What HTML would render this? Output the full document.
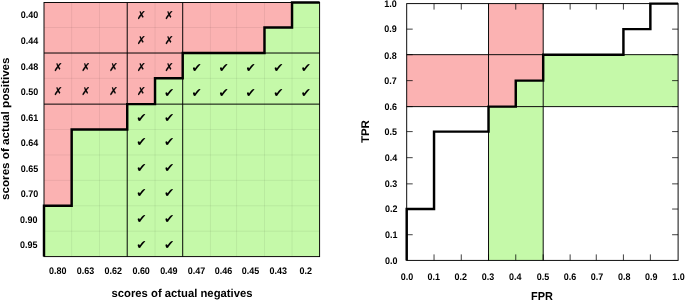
<!DOCTYPE html>
<html lang="en"><head><meta charset="utf-8"><title>ROC plot</title>
<style>html,body{margin:0;padding:0;background:#fff}svg{display:block}</style></head>
<body>
<svg width="685" height="302" viewBox="0 0 685 302">
<rect width="685" height="302" fill="#fff"/>
<rect x="44" y="2.5" width="275.6" height="254.1" fill="#FBB2B2"/>
<polygon points="44,256.6 44,205.78 71.66,205.78 71.66,129.55 127.23,129.55 127.23,104.14 155.03,104.14 155.03,78.33 182.7,78.33 182.7,53.02 264.48,53.02 264.48,27.51 292.04,27.51 292.04,2.5 319.6,2.5 319.6,256.6" fill="#C5F9A9"/>
<g stroke="#000" stroke-opacity="0.085" stroke-width="0.75">
<line x1="71.66" y1="2.5" x2="71.66" y2="256.6"/>
<line x1="44" y1="27.51" x2="319.6" y2="27.51"/>
<line x1="99.46" y1="2.5" x2="99.46" y2="256.6"/>
<line x1="44" y1="53.02" x2="319.6" y2="53.02"/>
<line x1="127.23" y1="2.5" x2="127.23" y2="256.6"/>
<line x1="44" y1="78.33" x2="319.6" y2="78.33"/>
<line x1="155.03" y1="2.5" x2="155.03" y2="256.6"/>
<line x1="44" y1="104.14" x2="319.6" y2="104.14"/>
<line x1="182.7" y1="2.5" x2="182.7" y2="256.6"/>
<line x1="44" y1="129.55" x2="319.6" y2="129.55"/>
<line x1="210.41" y1="2.5" x2="210.41" y2="256.6"/>
<line x1="44" y1="154.96" x2="319.6" y2="154.96"/>
<line x1="236.62" y1="2.5" x2="236.62" y2="256.6"/>
<line x1="44" y1="180.37" x2="319.6" y2="180.37"/>
<line x1="264.48" y1="2.5" x2="264.48" y2="256.6"/>
<line x1="44" y1="205.78" x2="319.6" y2="205.78"/>
<line x1="292.04" y1="2.5" x2="292.04" y2="256.6"/>
<line x1="44" y1="231.19" x2="319.6" y2="231.19"/>
</g>
<g stroke="#000" stroke-width="0.95" fill="none">
<rect x="44" y="2.5" width="275.6" height="254.1"/>
<line x1="127.23" y1="2.5" x2="127.23" y2="256.6"/>
<line x1="182.7" y1="2.5" x2="182.7" y2="256.6"/>
<line x1="44" y1="53.02" x2="319.6" y2="53.02"/>
<line x1="44" y1="104.14" x2="319.6" y2="104.14"/>
</g>
<polyline points="44,256.6 44,205.78 71.66,205.78 71.66,129.55 127.23,129.55 127.23,104.14 155.03,104.14 155.03,78.33 182.7,78.33 182.7,53.02 264.48,53.02 264.48,27.51 292.04,27.51 292.04,2.5 319.6,2.5" fill="none" stroke="#000" stroke-width="2.45" stroke-linejoin="miter" stroke-linecap="butt"/>
<g font-family="'DejaVu Sans', sans-serif" fill="#000">
<text font-size="11.0" stroke="#000" stroke-width="0.12" x="136.84" y="19.13">✗</text>
<text font-size="11.0" stroke="#000" stroke-width="0.12" x="164.58" y="19.13">✗</text>
<text font-size="11.0" stroke="#000" stroke-width="0.12" x="136.84" y="44.39">✗</text>
<text font-size="11.0" stroke="#000" stroke-width="0.12" x="164.58" y="44.39">✗</text>
<text font-size="11.0" stroke="#000" stroke-width="0.12" x="53.54" y="70.6">✗</text>
<text font-size="11.0" stroke="#000" stroke-width="0.12" x="81.27" y="70.6">✗</text>
<text font-size="11.0" stroke="#000" stroke-width="0.12" x="109.06" y="70.6">✗</text>
<text font-size="11.0" stroke="#000" stroke-width="0.12" x="136.84" y="70.6">✗</text>
<text font-size="11.0" stroke="#000" stroke-width="0.12" x="164.58" y="70.6">✗</text>
<text font-size="12.5" x="191.59" y="72.31">✔</text>
<text font-size="12.5" x="218.55" y="72.31">✔</text>
<text font-size="12.5" x="245.59" y="72.31">✔</text>
<text font-size="12.5" x="273.3" y="72.31">✔</text>
<text font-size="12.5" x="300.86" y="72.31">✔</text>
<text font-size="11.0" stroke="#000" stroke-width="0.12" x="53.54" y="95.36">✗</text>
<text font-size="11.0" stroke="#000" stroke-width="0.12" x="81.27" y="95.36">✗</text>
<text font-size="11.0" stroke="#000" stroke-width="0.12" x="109.06" y="95.36">✗</text>
<text font-size="11.0" stroke="#000" stroke-width="0.12" x="136.84" y="95.36">✗</text>
<text font-size="12.5" x="163.9" y="97.07">✔</text>
<text font-size="12.5" x="191.59" y="97.07">✔</text>
<text font-size="12.5" x="218.55" y="97.07">✔</text>
<text font-size="12.5" x="245.59" y="97.07">✔</text>
<text font-size="12.5" x="273.3" y="97.07">✔</text>
<text font-size="12.5" x="300.86" y="97.07">✔</text>
<text font-size="12.5" x="136.17" y="122.28">✔</text>
<text font-size="12.5" x="163.9" y="122.28">✔</text>
<text font-size="12.5" x="136.17" y="146.49">✔</text>
<text font-size="12.5" x="163.9" y="146.49">✔</text>
<text font-size="12.5" x="136.17" y="171.7">✔</text>
<text font-size="12.5" x="163.9" y="171.7">✔</text>
<text font-size="12.5" x="136.17" y="196.71">✔</text>
<text font-size="12.5" x="163.9" y="196.71">✔</text>
<text font-size="12.5" x="136.17" y="223.12">✔</text>
<text font-size="12.5" x="163.9" y="223.12">✔</text>
<text font-size="12.5" x="136.17" y="248.63">✔</text>
<text font-size="12.5" x="163.9" y="248.63">✔</text>
</g>
<g font-family="'Liberation Sans', Arial, sans-serif" font-weight="bold" fill="#000" text-rendering="geometricPrecision">
<text transform="translate(29.6,18.21) scale(0.945,1)" font-size="9.5" text-anchor="middle">0.40</text>
<text transform="translate(29.6,44.06) scale(0.945,1)" font-size="9.5" text-anchor="middle">0.44</text>
<text transform="translate(29.6,70.08) scale(0.945,1)" font-size="9.5" text-anchor="middle">0.48</text>
<text transform="translate(29.6,95.04) scale(0.945,1)" font-size="9.5" text-anchor="middle">0.50</text>
<text transform="translate(29.6,120.65) scale(0.945,1)" font-size="9.5" text-anchor="middle">0.61</text>
<text transform="translate(29.6,146.06) scale(0.945,1)" font-size="9.5" text-anchor="middle">0.64</text>
<text transform="translate(29.6,171.97) scale(0.945,1)" font-size="9.5" text-anchor="middle">0.65</text>
<text transform="translate(29.6,196.88) scale(0.945,1)" font-size="9.5" text-anchor="middle">0.70</text>
<text transform="translate(28.7,222.59) scale(0.945,1)" font-size="9.5" text-anchor="middle">0.90</text>
<text transform="translate(28.7,248) scale(0.945,1)" font-size="9.5" text-anchor="middle">0.95</text>
<text transform="translate(57.83,273.8) scale(0.945,1)" font-size="9.5" text-anchor="middle">0.80</text>
<text transform="translate(85.56,273.8) scale(0.945,1)" font-size="9.5" text-anchor="middle">0.63</text>
<text transform="translate(113.34,273.8) scale(0.945,1)" font-size="9.5" text-anchor="middle">0.62</text>
<text transform="translate(141.13,273.8) scale(0.945,1)" font-size="9.5" text-anchor="middle">0.60</text>
<text transform="translate(168.87,273.8) scale(0.945,1)" font-size="9.5" text-anchor="middle">0.49</text>
<text transform="translate(196.55,273.8) scale(0.945,1)" font-size="9.5" text-anchor="middle">0.47</text>
<text transform="translate(223.51,273.8) scale(0.945,1)" font-size="9.5" text-anchor="middle">0.46</text>
<text transform="translate(250.55,273.8) scale(0.945,1)" font-size="9.5" text-anchor="middle">0.45</text>
<text transform="translate(278.26,273.8) scale(0.945,1)" font-size="9.5" text-anchor="middle">0.43</text>
<text transform="translate(305.82,273.8) scale(0.945,1)" font-size="9.5" text-anchor="middle">0.2</text>
<text transform="translate(182,297) scale(0.98,1)" font-size="11.5" text-anchor="middle">scores of actual negatives</text>
<text transform="translate(8.7,128.7) rotate(-90) scale(1.014,0.97)" font-size="11.5" text-anchor="middle">scores of actual positives</text>
<rect x="488.52" y="3.6" width="54.67" height="51.06" fill="#FBB2B2"/>
<rect x="406.7" y="54.66" width="136.49" height="51.96" fill="#FBB2B2"/>
<rect x="515.76" y="80.64" width="27.43" height="25.98" fill="#C5F9A9"/>
<rect x="543.19" y="54.66" width="134.91" height="51.96" fill="#C5F9A9"/>
<rect x="488.52" y="106.62" width="54.67" height="153.78" fill="#C5F9A9"/>
<g stroke="#000" stroke-width="0.75" fill="none">
<line x1="434.04" y1="260.4" x2="434.04" y2="254.4"/>
<line x1="434.04" y1="3.6" x2="434.04" y2="9.6"/>
<line x1="406.7" y1="234.72" x2="412.7" y2="234.72"/>
<line x1="678.1" y1="234.72" x2="672.1" y2="234.72"/>
<line x1="461.28" y1="260.4" x2="461.28" y2="254.4"/>
<line x1="461.28" y1="3.6" x2="461.28" y2="9.6"/>
<line x1="406.7" y1="209.04" x2="412.7" y2="209.04"/>
<line x1="678.1" y1="209.04" x2="672.1" y2="209.04"/>
<line x1="488.52" y1="260.4" x2="488.52" y2="254.4"/>
<line x1="488.52" y1="3.6" x2="488.52" y2="9.6"/>
<line x1="406.7" y1="183.86" x2="412.7" y2="183.86"/>
<line x1="678.1" y1="183.86" x2="672.1" y2="183.86"/>
<line x1="515.76" y1="260.4" x2="515.76" y2="254.4"/>
<line x1="515.76" y1="3.6" x2="515.76" y2="9.6"/>
<line x1="406.7" y1="157.68" x2="412.7" y2="157.68"/>
<line x1="678.1" y1="157.68" x2="672.1" y2="157.68"/>
<line x1="543.19" y1="260.4" x2="543.19" y2="254.4"/>
<line x1="543.19" y1="3.6" x2="543.19" y2="9.6"/>
<line x1="406.7" y1="131.6" x2="412.7" y2="131.6"/>
<line x1="678.1" y1="131.6" x2="672.1" y2="131.6"/>
<line x1="570.14" y1="260.4" x2="570.14" y2="254.4"/>
<line x1="570.14" y1="3.6" x2="570.14" y2="9.6"/>
<line x1="406.7" y1="106.62" x2="412.7" y2="106.62"/>
<line x1="678.1" y1="106.62" x2="672.1" y2="106.62"/>
<line x1="596.28" y1="260.4" x2="596.28" y2="254.4"/>
<line x1="596.28" y1="3.6" x2="596.28" y2="9.6"/>
<line x1="406.7" y1="80.64" x2="412.7" y2="80.64"/>
<line x1="678.1" y1="80.64" x2="672.1" y2="80.64"/>
<line x1="623.42" y1="260.4" x2="623.42" y2="254.4"/>
<line x1="623.42" y1="3.6" x2="623.42" y2="9.6"/>
<line x1="406.7" y1="54.66" x2="412.7" y2="54.66"/>
<line x1="678.1" y1="54.66" x2="672.1" y2="54.66"/>
<line x1="650.36" y1="260.4" x2="650.36" y2="254.4"/>
<line x1="650.36" y1="3.6" x2="650.36" y2="9.6"/>
<line x1="406.7" y1="29.13" x2="412.7" y2="29.13"/>
<line x1="678.1" y1="29.13" x2="672.1" y2="29.13"/>
</g>
<g stroke="#000" stroke-width="0.95" fill="none">
<rect x="406.7" y="3.6" width="271.4" height="256.8"/>
<line x1="488.52" y1="260.4" x2="488.52" y2="3.6"/>
<line x1="543.19" y1="260.4" x2="543.19" y2="3.6"/>
<line x1="406.7" y1="106.62" x2="678.1" y2="106.62"/>
<line x1="406.7" y1="54.66" x2="678.1" y2="54.66"/>
</g>
<polyline points="406.7,260.4 406.7,209.04 434.04,209.04 434.04,131.6 488.52,131.6 488.52,106.62 515.76,106.62 515.76,80.64 543.19,80.64 543.19,54.66 623.42,54.66 623.42,29.13 650.36,29.13 650.36,3.6 678.1,3.6" fill="none" stroke="#000" stroke-width="2.45" stroke-linejoin="miter"/>
<text transform="translate(407.1,280.25) scale(0.945,1)" font-size="9.5" text-anchor="middle">0.0</text>
<text transform="translate(397.6,263.85) scale(0.945,1)" font-size="9.5" text-anchor="end">0.0</text>
<text transform="translate(433.64,280.25) scale(0.945,1)" font-size="9.5" text-anchor="middle">0.1</text>
<text transform="translate(397.5,238.17) scale(0.945,1)" font-size="9.5" text-anchor="end">0.1</text>
<text transform="translate(460.78,280.25) scale(0.945,1)" font-size="9.5" text-anchor="middle">0.2</text>
<text transform="translate(397.4,212.49) scale(0.945,1)" font-size="9.5" text-anchor="end">0.2</text>
<text transform="translate(488.12,280.25) scale(0.945,1)" font-size="9.5" text-anchor="middle">0.3</text>
<text transform="translate(397.3,187.31) scale(0.945,1)" font-size="9.5" text-anchor="end">0.3</text>
<text transform="translate(515.26,280.25) scale(0.945,1)" font-size="9.5" text-anchor="middle">0.4</text>
<text transform="translate(397.2,161.33) scale(0.945,1)" font-size="9.5" text-anchor="end">0.4</text>
<text transform="translate(543.1,280.25) scale(0.945,1)" font-size="9.5" text-anchor="middle">0.5</text>
<text transform="translate(397.1,135.35) scale(0.945,1)" font-size="9.5" text-anchor="end">0.5</text>
<text transform="translate(570.04,280.25) scale(0.945,1)" font-size="9.5" text-anchor="middle">0.6</text>
<text transform="translate(396.9,109.87) scale(0.945,1)" font-size="9.5" text-anchor="end">0.6</text>
<text transform="translate(597.08,280.25) scale(0.945,1)" font-size="9.5" text-anchor="middle">0.7</text>
<text transform="translate(396.8,84.44) scale(0.945,1)" font-size="9.5" text-anchor="end">0.7</text>
<text transform="translate(624.32,280.25) scale(0.945,1)" font-size="9.5" text-anchor="middle">0.8</text>
<text transform="translate(396.7,58.56) scale(0.945,1)" font-size="9.5" text-anchor="end">0.8</text>
<text transform="translate(651.36,280.25) scale(0.945,1)" font-size="9.5" text-anchor="middle">0.9</text>
<text transform="translate(396.7,32.38) scale(0.945,1)" font-size="9.5" text-anchor="end">0.9</text>
<text transform="translate(678.5,280.25) scale(0.945,1)" font-size="9.5" text-anchor="middle">1.0</text>
<text transform="translate(396.7,6.85) scale(0.945,1)" font-size="9.5" text-anchor="end">1.0</text>
<text transform="translate(542,300.2) scale(0.95,1)" font-size="11.5" text-anchor="middle">FPR</text>
<text transform="translate(368.9,131.6) rotate(-90) scale(1.0,0.97)" font-size="11.5" text-anchor="middle">TPR</text>
</g>
</svg>
</body></html>
